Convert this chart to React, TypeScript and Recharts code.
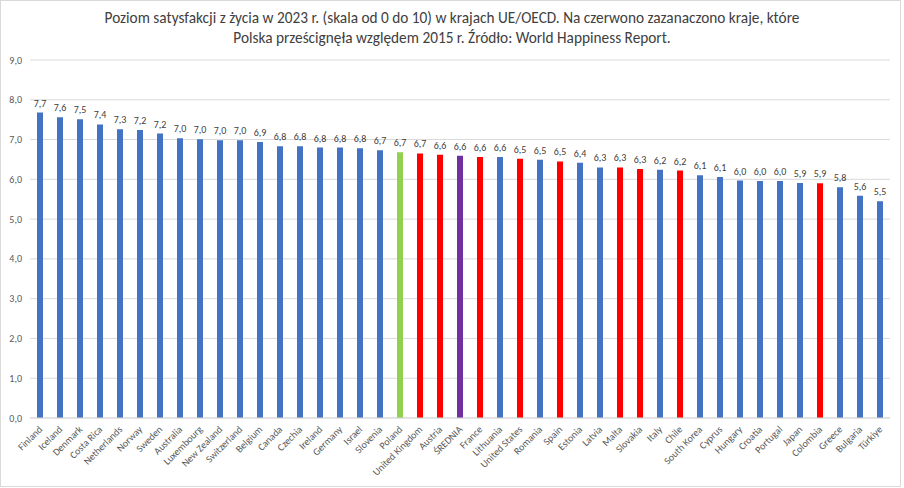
import { BarChart, Bar, XAxis, YAxis, CartesianGrid, Cell, LabelList } from 'recharts';

const countries = [
  'Finland', 'Iceland', 'Denmark', 'Costa Rica', 'Netherlands', 'Norway', 'Sweden', 'Australia',
  'Luxembourg', 'New Zealand', 'Switzerland', 'Belgium', 'Canada', 'Czechia', 'Ireland', 'Germany',
  'Israel', 'Slovenia', 'Poland', 'United Kingdom', 'Austria', 'ŚREDNIA', 'France', 'Lithuania',
  'United States', 'Romania', 'Spain', 'Estonia', 'Latvia', 'Malta', 'Slovakia', 'Italy', 'Chile',
  'South Korea', 'Cyprus', 'Hungary', 'Croatia', 'Portugal', 'Japan', 'Colombia', 'Greece',
  'Bulgaria', 'Türkiye',
];

const scores = [
  7.68, 7.56, 7.51, 7.38, 7.26, 7.24, 7.15, 7.03,
  7.01, 6.98, 6.98, 6.94, 6.83, 6.83, 6.8, 6.8,
  6.78, 6.73, 6.68, 6.65, 6.62, 6.59, 6.56, 6.56,
  6.52, 6.49, 6.45, 6.42, 6.3, 6.3, 6.26, 6.24, 6.22,
  6.1, 6.06, 5.97, 5.96, 5.96, 5.91, 5.9, 5.8,
  5.59, 5.45,
];

// kraje wyprzedzone przez Polskę względem 2015 r.
const overtaken = [
  'United Kingdom', 'Austria', 'France', 'United States', 'Spain', 'Malta', 'Slovakia', 'Chile', 'Colombia',
];

const yTicks = [0, 1, 2, 3, 4, 5, 6, 7, 8, 9];

const data = countries.map((name, i) => ({ name, value: scores[i] }));

const barColor = (name: string) => {
  if (name === 'Poland') return '#92D050';
  if (name === 'ŚREDNIA') return '#7030A0';
  if (overtaken.includes(name)) return '#FF0000';
  return '#4472C4';
};

const font = 'Carlito, Calibri, Lato, sans-serif';
const fmt = (v: number) => v.toFixed(1).replace('.', ',');

// eslint-disable-next-line @typescript-eslint/no-explicit-any
const XTick = (props: any) => {
  const { x, y, payload } = props;
  return (
    <text
      transform={`translate(${x + 3},${y + 4}) rotate(-45)`}
      textAnchor="end"
      fill="#595959"
      fontSize={10}
      fontFamily={font}
    >
      {payload.value}
    </text>
  );
};

export default function App() {
  return (
    <div style={{ position: 'absolute', left: 0, top: 0, width: 904, height: 488, background: '#fff' }}>
      <div
        style={{
          position: 'absolute', left: 0, top: 0, width: 899, height: 485,
          border: '1px solid #d9d9d9', boxSizing: 'content-box',
        }}
      />
      <div
        style={{
          position: 'absolute', left: 0, top: 8, width: 904, textAlign: 'center',
          fontFamily: font, fontSize: 15.3, lineHeight: '20px', color: '#404040',
        }}
      >
        Poziom satysfakcji z życia w 2023 r. (skala od 0 do 10) w krajach UE/OECD. Na czerwono zazanaczono kraje, które
        <br />
        Polska prześcignęła względem 2015 r. Źródło: World Happiness Report.
      </div>
      <div style={{ position: 'absolute', left: 0, top: 0 }}>
        <BarChart width={904} height={488} data={data} margin={{ top: 60, right: 14, left: 0, bottom: 0 }}>
          <CartesianGrid vertical={false} stroke="#d9d9d9" />
          <XAxis
            dataKey="name"
            interval={0}
            height={70}
            tick={<XTick />}
            tickLine={false}
            axisLine={{ stroke: '#d9d9d9' }}
          />
          <YAxis
            width={30}
            domain={[0, 9]}
            ticks={yTicks}
            tickFormatter={fmt}
            tick={{ fill: '#595959', fontSize: 10, fontFamily: font }}
            tickLine={false}
            axisLine={false}
          />
          <Bar dataKey="value" barSize={6} isAnimationActive={false}>
            {data.map((d, i) => (
              <Cell key={`cell-${i}`} fill={barColor(d.name)} />
            ))}
            <LabelList
              dataKey="value"
              position="top"
              offset={6}
              formatter={(v: number) => fmt(v)}
              fill="#404040"
              fontSize={10}
              fontFamily={font}
            />
          </Bar>
        </BarChart>
      </div>
    </div>
  );
}
